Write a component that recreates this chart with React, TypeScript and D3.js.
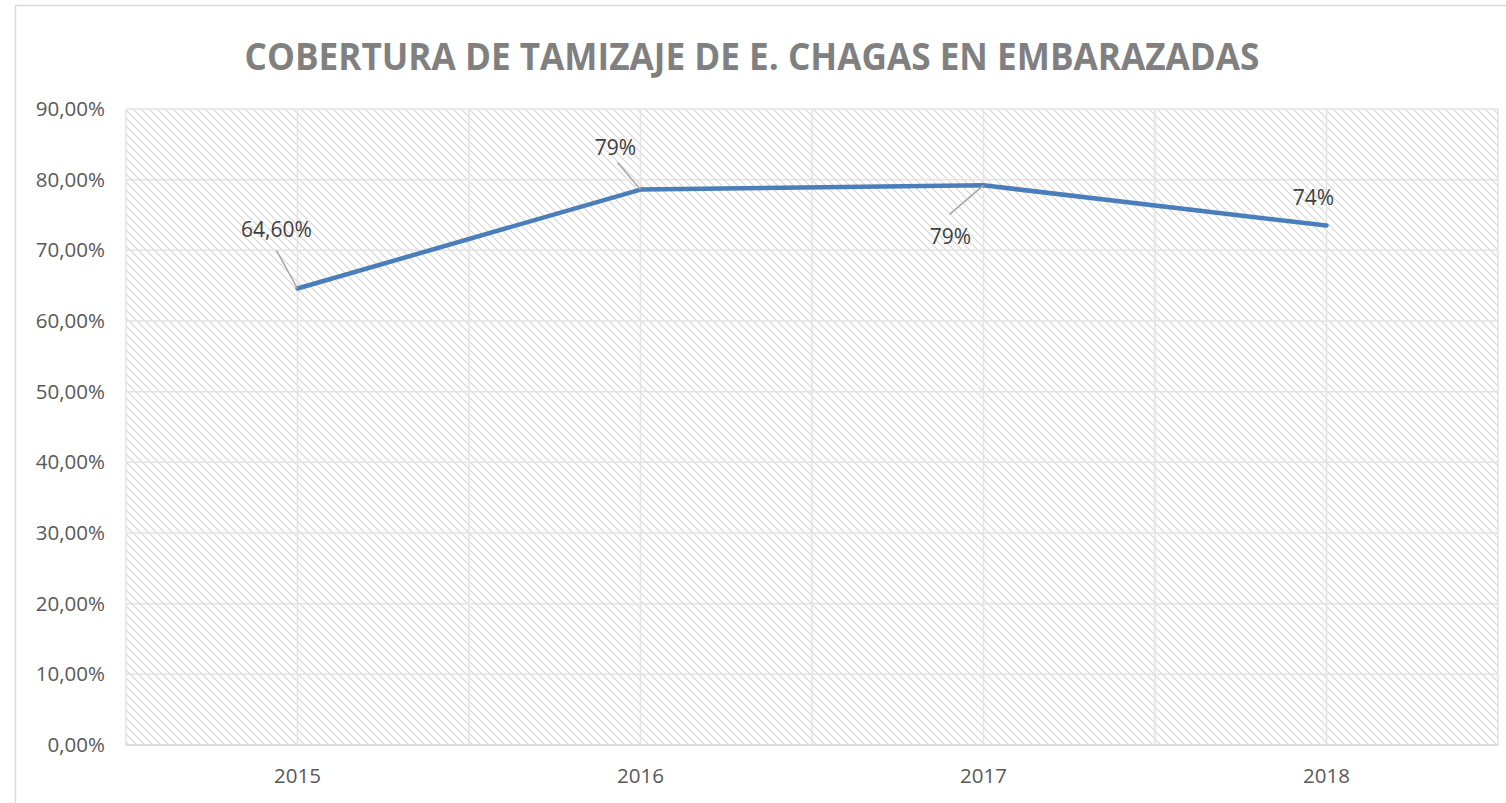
import React from "react";
import * as d3 from "d3";

const categories = ["2015", "2016", "2017", "2018"];
const values = [0.646, 0.786, 0.792, 0.735];
const labels = ["64,60%", "79%", "79%", "74%"];
const yTicks = [0, 0.1, 0.2, 0.3, 0.4, 0.5, 0.6, 0.7, 0.8, 0.9];
const title = "COBERTURA DE TAMIZAJE DE E. CHAGAS EN EMBARAZADAS";

// label offsets relative to point (dx, dy) and leader line end
const labelPos = [
  { dx: -21, dy: -51, leader: [-21, -38] as number[] | null },
  { dx: -25, dy: -35, leader: [-23, -27] as number[] | null },
  { dx: -33, dy: 59, leader: [-34, 29] as number[] | null },
  { dx: -13, dy: -21, leader: null as number[] | null },
];

export default function App() {
  const W = 1506, H = 803;
  const left = 126, right = 1498, top = 109, bottom = 745;
  const x = d3.scaleBand<string>().domain(categories).range([left, right]);
  const y = d3.scaleLinear().domain([0, 0.9]).range([bottom, top]);
  const cx = (c: string) => (x(c) as number) + x.bandwidth() / 2;
  const line = d3
    .line<number>()
    .x((_, i) => cx(categories[i]))
    .y((v) => y(v));
  const fmt = (v: number) => d3.format(".2f")(v * 100).replace(".", ",") + "%";
  const font = "'Open Sans', 'Noto Sans', sans-serif";
  const boundaries = categories.map((c) => x(c) as number).concat([right]);

  return (
    <svg width={W} height={H} style={{ position: "absolute", left: 0, top: 0 }}>
      <defs>
        <pattern id="hatch" width={8} height={8} patternUnits="userSpaceOnUse">
          <rect width={8} height={8} fill="#ffffff" />
          <path d="M-2,-2 L10,10 M-2,6 L2,10 M6,-2 L10,2" stroke="#d6d6d6" strokeWidth={1.2} />
        </pattern>
      </defs>
      <rect x={0} y={0} width={W} height={H} fill="#fff" />
      <rect x={15.5} y={5.5} width={W} height={H} fill="#fff" stroke="#d9d9d9" strokeWidth={1.5} />
      <text
        x={752}
        y={70}
        textAnchor="middle"
        fontFamily={font}
        fontWeight={700}
        fontSize={38}
        fill="#808080"
        textLength={1015}
        lengthAdjust="spacingAndGlyphs"
      >
        {title}
      </text>
      <rect x={left} y={top} width={right - left} height={bottom - top} fill="url(#hatch)" />
      {yTicks.map((t) => (
        <line key={"g" + t} x1={left} x2={right} y1={y(t)} y2={y(t)} stroke="#e3e3e3" strokeWidth={1.5} />
      ))}
      {categories.map((c) => (
        <line key={"v" + c} x1={cx(c)} x2={cx(c)} y1={top} y2={bottom} stroke="#e3e3e3" strokeWidth={1.5} />
      ))}
      {boundaries.map((b, i) => (
        <line key={"b" + i} x1={b} x2={b} y1={top} y2={bottom} stroke="#e3e3e3" strokeWidth={1.5} />
      ))}
      <line x1={left} x2={right} y1={bottom} y2={bottom} stroke="#d9d9d9" strokeWidth={1.5} />
      {yTicks.map((t) => (
        <text
          key={"t" + t}
          x={105}
          y={y(t) + 7}
          textAnchor="end"
          fontFamily={font}
          fontSize={20.5}
          fill="#595959"
        >
          {fmt(t)}
        </text>
      ))}
      {categories.map((c) => (
        <text key={"c" + c} x={cx(c)} y={783} textAnchor="middle" fontFamily={font} fontSize={20.5} fill="#595959">
          {c}
        </text>
      ))}
      <path d={line(values) || ""} fill="none" stroke="#4a7ebb" strokeWidth={4.5} strokeLinejoin="round" strokeLinecap="round" />
      {values.map((v, i) => {
        const px = cx(categories[i]);
        const py = y(v);
        const lp = labelPos[i];
        return (
          <g key={"l" + i}>
            {lp.leader && (
              <line x1={px} y1={py} x2={px + lp.leader[0]} y2={py + lp.leader[1]} stroke="#a6a6a6" strokeWidth={1.5} />
            )}
            <text
              x={px + lp.dx}
              y={py + lp.dy}
              textAnchor="middle"
              fontFamily={font}
              fontSize={21}
              fill="#404040"
            >
              {labels[i]}
            </text>
          </g>
        );
      })}
    </svg>
  );
}
